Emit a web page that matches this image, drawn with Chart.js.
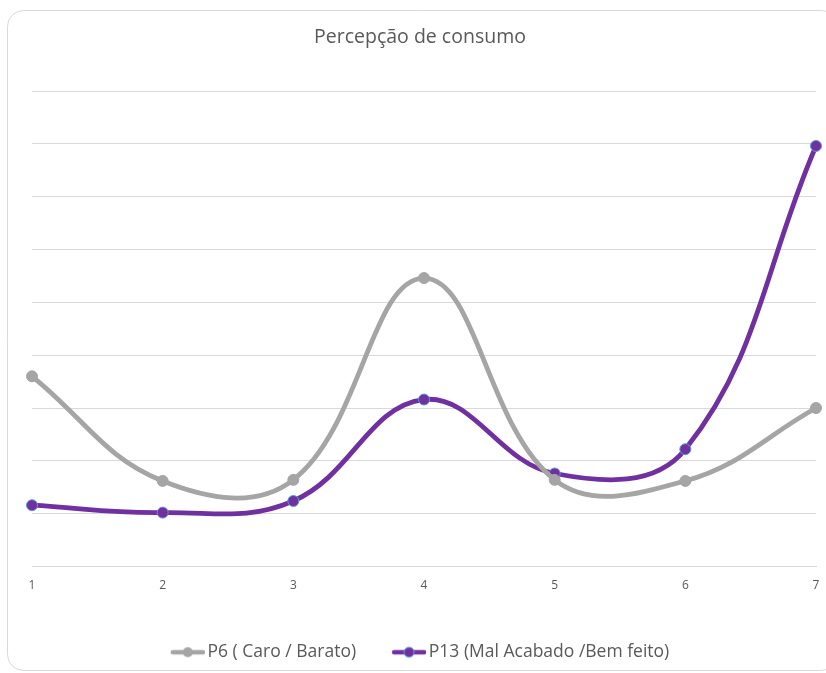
<!DOCTYPE html>
<html>
<head>
<meta charset="utf-8">
<script src="https://cdn.jsdelivr.net/npm/chart.js@4.4.1/dist/chart.umd.min.js"></script>
<style>
  html, body { margin: 0; padding: 0; background: #ffffff; }
  #wrap { position: relative; width: 826px; height: 673px; }
</style>
</head>
<body>
<div id="wrap"><canvas id="chart" width="826" height="673"></canvas></div>
<script>
// Categories and series
const categories = ['1', '2', '3', '4', '5', '6', '7'];
const p6Label = 'P6 ( Caro / Barato)';
const p13Label = 'P13 (Mal Acabado /Bem feito)';
const p6Values = [18.0, 8.1, 8.2, 27.3, 8.2, 8.1, 15.0];
const p13Values = [5.8, 5.1, 6.2, 15.8, 8.8, 11.1, 39.8];
const yTicks = [0, 5, 10, 15, 20, 25, 30, 35, 40, 45];

const GRAY = '#A5A5A5';
const PURPLE = '#7030A0';
const OUTLINE = '#5B9BD5';
const TEXT = '#595959';
const GRID = '#D9D9D9';
const FONT = "'Open Sans', sans-serif";

// Legend marker: a short line with a dot in the middle
function legendMarker(color, outline) {
  const c = document.createElement('canvas');
  c.width = 40; c.height = 14;
  const g = c.getContext('2d');
  g.strokeStyle = color;
  g.lineWidth = 4.5;
  g.lineCap = 'round';
  g.beginPath(); g.moveTo(8, 7); g.lineTo(38, 7); g.stroke();
  g.fillStyle = color;
  g.beginPath(); g.arc(23, 7, 5, 0, Math.PI * 2); g.fill();
  if (outline) { g.strokeStyle = outline; g.lineWidth = 1; g.stroke(); }
  return c;
}
const markers = [legendMarker(GRAY, null), legendMarker(PURPLE, OUTLINE)];

// Rounded frame around the whole chart
const framePlugin = {
  id: 'frame',
  beforeDraw(chart) {
    const ctx = chart.ctx;
    ctx.save();
    ctx.fillStyle = '#ffffff';
    ctx.fillRect(0, 0, chart.width, chart.height);
    ctx.strokeStyle = GRID;
    ctx.lineWidth = 1;
    ctx.beginPath();
    ctx.roundRect(7.5, 10.5, 830, 660, 16);
    ctx.stroke();
    ctx.restore();
  }
};

new Chart(document.getElementById('chart'), {
  type: 'line',
  data: {
    labels: categories,
    datasets: [
      {
        label: p6Label,
        data: p6Values,
        borderColor: GRAY,
        backgroundColor: GRAY,
        pointBackgroundColor: GRAY,
        pointBorderColor: GRAY,
        pointBorderWidth: 1,
        pointRadius: 5.5,
        borderWidth: 4.8,
        tension: 0.4,
        clip: false
      },
      {
        label: p13Label,
        data: p13Values,
        borderColor: PURPLE,
        backgroundColor: PURPLE,
        pointBackgroundColor: PURPLE,
        pointBorderColor: OUTLINE,
        pointBorderWidth: 1,
        pointRadius: 5.5,
        borderWidth: 4.8,
        tension: 0.4,
        clip: false
      }
    ]
  },
  options: {
    responsive: false,
    animation: false,
    events: [],
    layout: { padding: { left: 24, right: 10, top: 0, bottom: 2 } },
    scales: {
      x: {
        offset: false,
        grid: { display: false, drawTicks: false },
        border: { display: true, color: GRID, width: 1 },
        ticks: { color: TEXT, font: { family: FONT, size: 12 }, padding: 12, maxRotation: 0 },
        afterFit(scale) {
          scale.height = 41;
          scale.paddingLeft = 0;
          scale.paddingRight = 0;
        }
      },
      y: {
        min: 0,
        max: 45,
        afterBuildTicks(scale) { scale.ticks = yTicks.map(v => ({ value: v })); },
        grid: { color: GRID, lineWidth: 1, drawTicks: false },
        border: { display: false },
        ticks: { display: false },
        afterFit(scale) { scale.width = 8; }
      }
    },
    plugins: {
      title: {
        display: true,
        text: 'Percepção de consumo',
        color: TEXT,
        font: { family: FONT, size: 19.5, weight: 'normal', lineHeight: 1.2 },
        padding: { top: 26, bottom: 41.6 }
      },
      legend: {
        display: true,
        position: 'bottom',
        labels: {
          color: TEXT,
          font: { family: FONT, size: 17.5 },
          usePointStyle: true,
          pointStyleWidth: 28,
          padding: 36,
          generateLabels(chart) {
            const items = Chart.defaults.plugins.legend.labels.generateLabels(chart);
            items.forEach((it, i) => { it.pointStyle = markers[i]; });
            return items;
          }
        }
      },
      tooltip: { enabled: false }
    }
  },
  plugins: [framePlugin]
});
</script>
</body>
</html>
